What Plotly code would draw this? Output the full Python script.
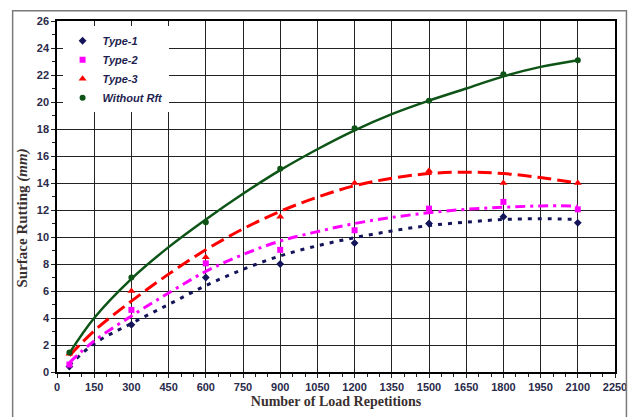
import plotly.graph_objects as go

# Measured points
x_pts = [50, 300, 600, 900, 1200, 1500, 1800, 2100]
type1 = [0.4, 3.5, 7.0, 8.0, 9.55, 11.0, 11.5, 11.05]
type2 = [0.55, 4.6, 8.05, 9.05, 10.5, 12.1, 12.6, 12.05]
type3 = [1.35, 6.0, 8.5, 11.5, 14.0, 14.9, 14.0, 14.0]
without_rft = [1.45, 7.0, 11.1, 15.05, 18.05, 20.1, 22.05, 23.1]

# Trend lines
x_trend = [50, 150, 300, 450, 600, 750, 900, 1050, 1200, 1350, 1500, 1650, 1800, 1950, 2100]
trend1 = [0.5, 2.1, 3.6, 5.0, 6.4, 7.6, 8.6, 9.35, 9.95, 10.45, 10.85, 11.1, 11.3, 11.35, 11.3]
trend2 = [0.7, 2.3, 4.15, 5.85, 7.45, 8.7, 9.7, 10.4, 11.0, 11.45, 11.8, 12.05, 12.2, 12.3, 12.3]
trend3 = [1.2, 3.05, 5.25, 7.25, 9.05, 10.6, 11.9, 12.95, 13.8, 14.35, 14.7, 14.8, 14.7, 14.4, 14.0]
trend_w = [1.4, 4.0, 6.9, 9.25, 11.3, 13.2, 14.95, 16.5, 17.9, 19.1, 20.1, 21.0, 21.9, 22.6, 23.1]

names = ["Type-1", "Type-2", "Type-3", "Without Rft"]
colors = ["#14145a", "#ff00ff", "#ff0000", "#0d5416"]
symbols = ["diamond", "square", "triangle-up", "circle"]
sizes = [6, 6, 7, 6]
dashes = ["4px,6px", "10px,5px,3px,5px", "14px,6px", "solid"]
widths = [3, 3, 3, 2.5]
pts = [type1, type2, type3, without_rft]
trends = [trend1, trend2, trend3, trend_w]

x_title = "Number of Load Repetitions"
y_title = "Surface Rutting <i>(mm)</i>"

fig = go.Figure()
for n, c, d, w, t in zip(names, colors, dashes, widths, trends):
    fig.add_trace(go.Scatter(x=x_trend, y=t, mode="lines", line=dict(color=c, dash=d, width=w, shape="spline"),
                             showlegend=False, hoverinfo="skip"))
for n, c, s, sz, p in zip(names, colors, symbols, sizes, pts):
    fig.add_trace(go.Scatter(x=x_pts, y=p, mode="markers", name=n,
                             marker=dict(color=c, symbol=s, size=sz)))

fig.update_layout(
    width=631, height=417,
    margin=dict(l=57, r=16, t=21, b=45, autoexpand=False),
    paper_bgcolor="white", plot_bgcolor="white",
    font=dict(family="Liberation Sans, Arial", color="#2a2a4a"),
    legend=dict(x=0.01, y=0.985, xanchor="left", yanchor="top", bgcolor="white",
                font=dict(size=11, color="#1e1e50", family="Liberation Sans, Arial", weight="bold", style="italic"),
                tracegroupgap=0),
    xaxis=dict(range=[0, 2250], dtick=150, tick0=0, showgrid=True, gridcolor="#222", gridwidth=1,
               ticks="outside", ticklen=4, tickcolor="#222", showline=True, linecolor="#000", linewidth=1.5,
               mirror=True, zeroline=False, automargin=False,
               minor=dict(dtick=50, ticks="outside", ticklen=3, tickcolor="#222", showgrid=False),
               tickfont=dict(size=11, family="Liberation Sans, Arial", weight="bold", color="#2a2a4a"),
               title=dict(text=x_title, standoff=4,
                          font=dict(size=14, family="Liberation Serif, Times New Roman", weight="bold", color="#3a3030"))),
    yaxis=dict(range=[0, 26], dtick=2, showgrid=True, gridcolor="#222", gridwidth=1,
               ticks="outside", ticklen=4, tickcolor="#222", showline=True, linecolor="#000", linewidth=1.5,
               mirror=True, zeroline=False, automargin=False,
               minor=dict(dtick=1, ticks="outside", ticklen=3, tickcolor="#222", showgrid=False),
               tickfont=dict(size=11, family="Liberation Sans, Arial", weight="bold", color="#2a2a4a")),
    annotations=[dict(text=y_title, xref="paper", yref="paper", x=-0.061, y=0.44, textangle=-90,
                      showarrow=False, xanchor="center", yanchor="middle",
                      font=dict(size=15, family="Liberation Serif, Times New Roman", weight="bold", color="#3a3030"))],
    shapes=[dict(type="rect", xref="paper", yref="paper", x0=-0.0795, x1=1.0205, y0=-0.14, y1=1.0295,
                 line=dict(color="#7a7a7a", width=1.5), fillcolor="rgba(0,0,0,0)", layer="above")],
)

fig.write_html("out.html", config={"displayModeBar": False},
               post_script="document.body.style.margin='0';document.body.style.overflow='hidden';")
